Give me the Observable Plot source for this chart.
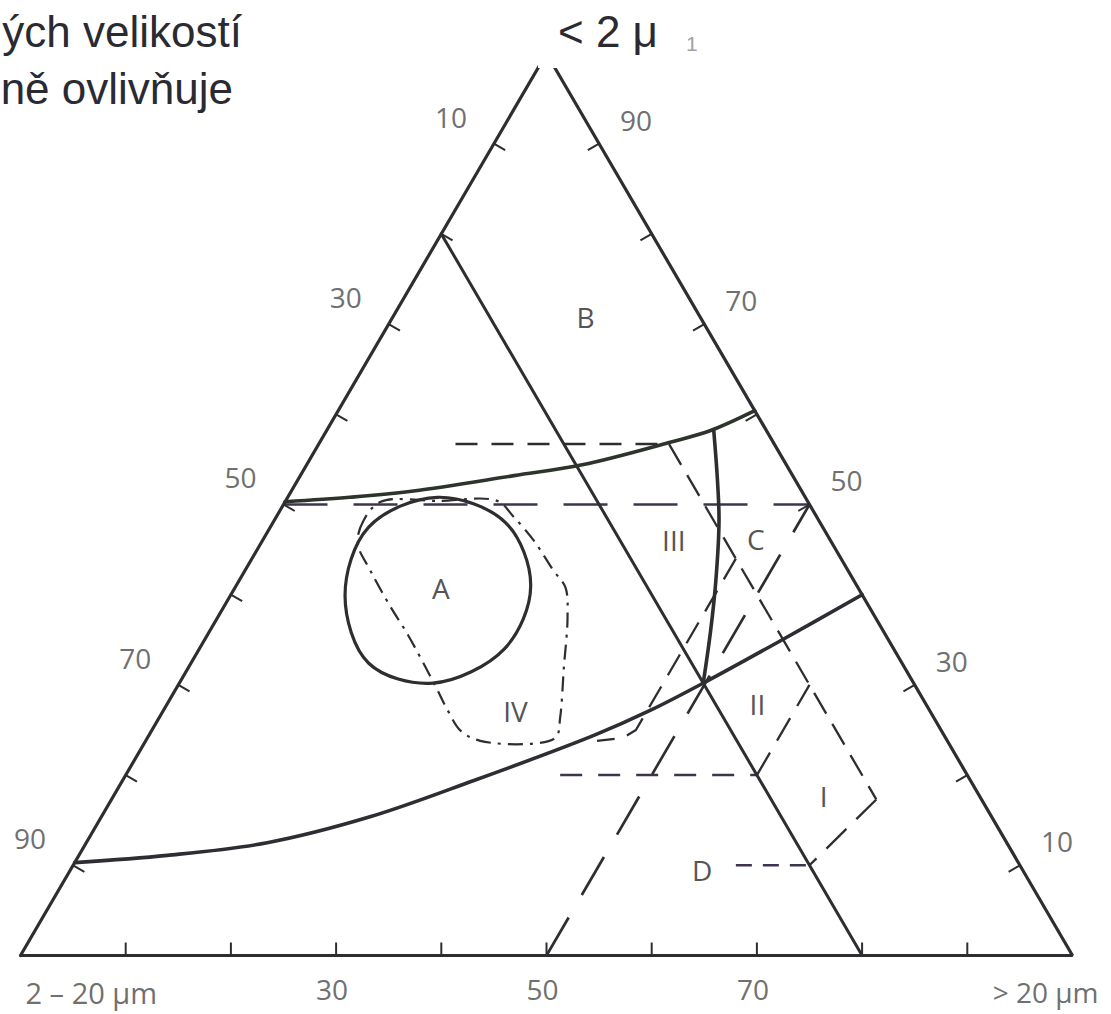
<!DOCTYPE html>
<html>
<head>
<meta charset="utf-8">
<script src="https://cdn.jsdelivr.net/npm/d3@7"></script>
<script src="https://cdn.jsdelivr.net/npm/@observablehq/plot@0.6"></script>
<style>
  html, body { margin: 0; padding: 0; background: #fff; overflow: hidden; }
  #wrap { position: relative; width: 1111px; height: 1014px; overflow: hidden; background: #fff; }
  #wrap svg { position: absolute; left: 0; top: 0; overflow: visible; }
  .cap { position: absolute; white-space: nowrap; font-family: "Liberation Sans", Arial, sans-serif; color: #2a2a33; line-height: 1; }
  #apexBox { position: absolute; left: 538px; top: 0; width: 148px; height: 68px; background: #fff; }
</style>
</head>
<body>
<div id="wrap">
  <div class="cap" style="right:869px; top:10px; font-size:44px;">ých velikostí</div>
  <div class="cap" style="right:878px; top:67px; font-size:44px;">ně ovlivňuje</div>
  <div id="apexBox"></div>
  <div class="cap" style="left:558px; top:10px; font-size:44px;">&lt; 2 μ</div>
  <div class="cap" style="left:686px; top:33px; font-size:21px; color:#a0a0a0;">1</div>
</div>
<script>
// Ternary points are [coarse (> 20 µm) %, clay (< 2 µm) %]; the 2–20 µm share is the rest.
const tickValues = [10, 20, 30, 40, 50, 60, 70, 80, 90];
const siltLabels = [10, 30, 50, 70, 90];   // left edge, % 2–20 µm
const clayLabels = [90, 70, 50, 30, 10];   // right edge, % < 2 µm
const coarseLabels = [30, 50, 70];         // base, % > 20 µm
const cornerLeft = "2 – 20 µm";
const cornerRight = "> 20 µm";

const outline = [[0, 0], [100, 0], [0, 100], [0, 0]];
const silt20 = [[0, 80], [80, 0]];
const boundaryAB = [[0, 50.3], [5.9, 50.8], [11.6, 51.5], [20.3, 53.2], [26.2, 54.4], [33.3, 56.9], [36.5, 58.2], [39.6, 60.4]];
const boundaryAD = [[0, 10.3], [8.4, 11.1], [17.2, 12.5], [25.6, 15.4], [33.4, 19.4], [42.3, 24.4], [46.3, 27.2], [49.8, 30.2], [54.8, 34.9], [60, 40]];
const boundaryC = [[36.8, 58.2], [39.9, 52.7], [42.3, 48.2], [45.3, 41.6], [47.6, 36.0], [49.8, 30.2]];
const circleA = [[14.25, 50.8], [22.1, 48.0], [28.0, 41.0], [29.0, 34.0], [24.1, 30.2], [16.9, 32.4], [10.9, 39.9], [9.35, 47.5]];
const fieldIV = [[9.1, 50.3], [8.5, 48.2], [9.2, 45.7], [11.9, 42.7], [15.9, 38.6], [18.9, 35.7], [24.2, 30.2], [27.0, 27.2], [29.4, 24.9], [31.8, 23.8], [37.0, 23.5], [38.8, 24.2], [38.1, 26.4], [35.7, 31.9], [33.25, 37.5], [31.4, 40.8], [29.3, 42.7], [25.8, 46.0], [22.6, 48.6], [20.1, 50.4], [14.5, 50.4]];

// dashed field limits
const clay57 = [[13, 56.7], [33.3, 56.7]];
const clay50 = [[0, 50], [50, 50]];
const clay20 = [[41.3, 20], [60, 20]];
const clay10 = [[63, 10], [70, 10]];
const coarse50 = [[50, 0], [50, 50]];
const coarse46 = [[46, 44], [46, 25], [45.2, 24.1], [42.9, 23.8]];
const coarse60 = [[60, 20], [60, 30]];
const silt10 = [[33.3, 56.7], [72.7, 17.3]];
const fieldIbase = [[72.7, 17.3], [70, 10]];

const regionNames = ["A", "B", "C", "D", "I", "II", "III", "IV"];
const regionCoarse = [19.7, 18.4, 46.9, 60.2, 67.6, 56.2, 39.2, 33.6];
const regionClay = [40.5, 70.6, 46.0, 9.2, 17.5, 27.7, 45.8, 26.9];

const X0 = 20, X1 = 1072, Y0 = 955, Y1 = 53;
const kx = (X1 - X0) / 100, ky = (Y0 - Y1) / 100;   // px per percent
const pos = ([g, c]) => ({x: g + c / 2, y: c});
const pts = (arr) => arr.map(pos);

const ink = "#2e2e31";
const violet = "#3f3450";
const labelGrey = "#707070";
const textFont = "Open Sans";

const dashedLine = (arr, dash, stroke = ink, w = 2.6) =>
  Plot.line(pts(arr), {x: "x", y: "y", stroke, strokeWidth: w, strokeDasharray: dash, strokeLinecap: "butt"});

// tick marks, perpendicular to each side, pointing inward
const T = 13;
const cos30 = Math.sqrt(3) / 2;
const baseTicks = tickValues.map(v => ({x1: v, y1: 0, x2: v, y2: T / ky}));
const leftTicks = tickValues.map(s => {
  const c = 100 - s, x = c / 2;
  return {x1: x, y1: c, x2: x + cos30 * T / kx, y2: c - 0.5 * T / ky};
});
const rightTicks = tickValues.map(c => {
  const x = 100 - c / 2;
  return {x1: x, y1: c, x2: x - cos30 * T / kx, y2: c - 0.5 * T / ky};
});
const ticks = [...baseTicks, ...leftTicks, ...rightTicks];

const leftText = siltLabels.map(s => ({x: (100 - s) / 2, y: 100 - s, t: String(s)}));
const rightText = clayLabels.map(c => ({x: 100 - c / 2, y: c, t: String(c)}));
const baseText = coarseLabels.map(v => ({x: v, y: 0, t: String(v)}));
const regions = regionNames.map((n, i) => ({...pos([regionCoarse[i], regionClay[i]]), t: n}));

const chart = Plot.plot({
  width: 1111,
  height: 1014,
  margin: 0,
  style: {background: "transparent"},
  x: {domain: [0, 100], range: [X0, X1], axis: null},
  y: {domain: [0, 100], range: [Y0, Y1], axis: null},
  marks: [
    // field outlines
    dashedLine(clay57, "22,14"),
    dashedLine(clay50, "44,26", violet, 2.7),
    dashedLine(clay20, "22,16", violet, 2.5),
    dashedLine(clay10, "16,11", violet, 2.5),
    dashedLine(coarse50, "44,26", ink, 2.7),
    dashedLine(coarse46, "24,13", ink, 2.3),
    dashedLine(coarse60, "26,14", ink, 2.3),
    dashedLine(silt10, "24,12", ink, 2.3),
    dashedLine(fieldIbase, "28,14", ink, 2.3),
    Plot.line(pts(fieldIV), {x: "x", y: "y", curve: "catmull-rom-closed", stroke: ink, strokeWidth: 2.2, strokeDasharray: "15,7,3,7", strokeLinecap: "butt"}),
    Plot.line(pts(circleA), {x: "x", y: "y", curve: "catmull-rom-closed", stroke: ink, strokeWidth: 3.2}),
    // solid boundaries
    Plot.line(pts(silt20), {x: "x", y: "y", stroke: ink, strokeWidth: 3}),
    Plot.line(pts(boundaryAB), {x: "x", y: "y", curve: "catmull-rom", stroke: "#2c342c", strokeWidth: 3.6}),
    Plot.line(pts(boundaryAD), {x: "x", y: "y", curve: "catmull-rom", stroke: "#2f2c34", strokeWidth: 3.6}),
    Plot.line(pts(boundaryC), {x: "x", y: "y", curve: "catmull-rom", stroke: ink, strokeWidth: 3.6}),
    Plot.line(pts(outline), {x: "x", y: "y", stroke: ink, strokeWidth: 3.2, strokeLinejoin: "miter"}),
    Plot.link(ticks, {x1: "x1", y1: "y1", x2: "x2", y2: "y2", stroke: ink, strokeWidth: 2}),
    // scale numbers
    Plot.text(leftText, {x: "x", y: "y", text: "t", dx: -43, dy: -25, fontFamily: textFont, fontSize: 28, fill: labelGrey}),
    Plot.text(rightText, {x: "x", y: "y", text: "t", dx: 37, dy: -22, fontFamily: textFont, fontSize: 28, fill: labelGrey}),
    Plot.text(baseText, {x: "x", y: "y", text: "t", dx: -4, dy: 36, fontFamily: textFont, fontSize: 28, fill: labelGrey}),
    Plot.text([cornerLeft], {x: () => 0, y: () => 0, text: d => d, textAnchor: "start", dx: 5, dy: 39, fontFamily: textFont, fontSize: 29, fill: labelGrey}),
    Plot.text([cornerRight], {x: () => 100, y: () => 0, text: d => d, textAnchor: "end", dx: 26, dy: 39, fontFamily: textFont, fontSize: 28, fill: labelGrey}),
    // field names
    Plot.text(regions, {x: "x", y: "y", text: "t", fontFamily: textFont, fontSize: 28, fill: "#555"})
  ]
});

document.getElementById("wrap").prepend(chart);
</script>
</body>
</html>
